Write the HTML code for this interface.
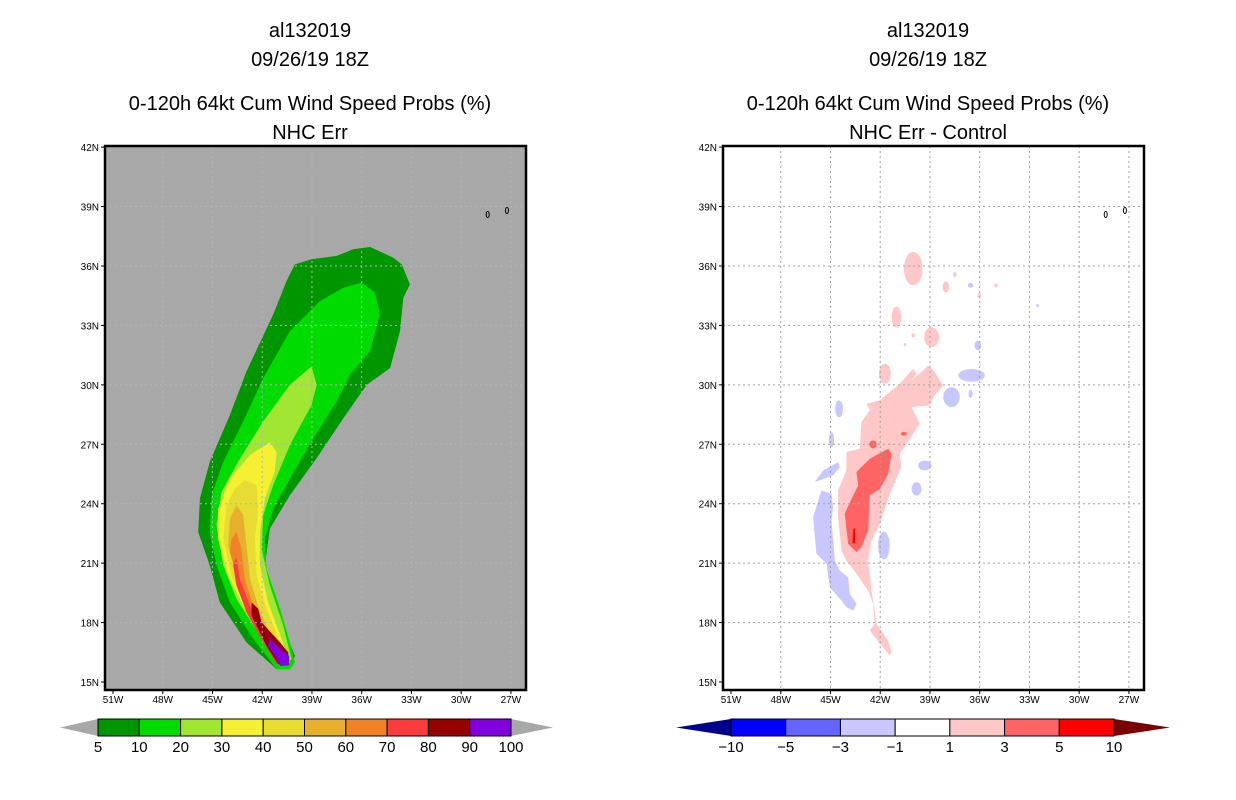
<!DOCTYPE html>
<html><head><meta charset="utf-8">
<style>
html,body{margin:0;padding:0;background:#fff;}
svg{display:block;font-family:"Liberation Sans","DejaVu Sans",sans-serif;}
</style></head>
<body>
<svg id="chart" width="1236" height="800" viewBox="0 0 1236 800">
<g id="titles" font-size="20" text-anchor="middle" fill="#000">
<text x="310" y="37">al132019</text>
<text x="310" y="66">09/26/19 18Z</text>
<text x="310" y="110">0-120h 64kt Cum Wind Speed Probs (%)</text>
<text x="310" y="139">NHC Err</text>
<text x="928" y="37">al132019</text>
<text x="928" y="66">09/26/19 18Z</text>
<text x="928" y="110">0-120h 64kt Cum Wind Speed Probs (%)</text>
<text x="928" y="139">NHC Err - Control</text>
</g>
<g id="leftPanel"></g>
<g id="rightPanel"></g>
<g id="leftBar"></g>
<g id="rightBar"></g>
</svg>
<script>
// ---- data ----
const latTicks = [42,39,36,33,30,27,24,21,18,15];
const lonTicks = [51,48,45,42,39,36,33,30,27];
const probLevels = [5,10,20,30,40,50,60,70,80,90,100];
const probColors = ["#009600","#00dc00","#a0e632","#f5f032","#e6dc32","#e6af2d","#f08228","#fa3c3c","#960000","#8200dc"];
const diffLevels = [-10,-5,-3,-1,1,3,5,10];
const diffColors = ["#0000ff","#6464ff","#c8c8ff","#ffffff","#ffc8c8","#ff6464","#ff0000"];
// contours [lonW, latN]
const prob5 = [[40.03,36.08],[39.02,36.34],[37.51,36.51],[36.51,36.84],[35.5,36.96],[34.09,36.42],[33.59,36.08],[33.09,35.07],[33.49,34.4],[33.69,32.71],[34.29,30.85],[35.7,30.0],[37.11,28.31],[38.72,26.29],[40.33,24.43],[41.54,22.74],[41.84,20.88],[41.13,19.19],[40.53,17.33],[40.03,16.32],[40.33,15.65],[41.13,15.65],[42.95,17.0],[44.56,19.02],[45.16,20.88],[45.86,22.57],[45.76,24.26],[45.16,26.12],[43.95,28.48],[42.95,30.68],[41.34,33.55],[40.53,35.24]];
const prob10 = [[36.0,35.16],[35.2,34.65],[34.9,33.55],[35.5,31.69],[36.71,30.51],[37.51,29.16],[38.92,27.3],[40.33,25.27],[41.34,23.75],[41.84,22.23],[41.74,20.71],[40.93,18.69],[40.33,17.0],[40.03,15.98],[40.33,15.65],[41.13,15.65],[42.54,17.17],[43.95,19.02],[44.76,20.88],[45.16,22.57],[45.06,24.43],[44.35,26.12],[43.15,28.15],[41.94,30.34],[40.33,32.71],[38.52,34.23],[37.11,34.9]];
const prob20 = [[39.02,30.93],[38.72,30.0],[39.02,28.99],[40.33,26.96],[41.34,24.94],[41.94,23.42],[42.04,21.73],[41.54,19.87],[40.73,17.84],[40.23,16.15],[40.93,15.81],[42.14,17.33],[43.55,19.19],[44.35,20.88],[44.76,22.91],[44.45,24.6],[43.45,26.12],[41.94,28.15],[40.33,30.0]];
const prob30 = [[41.54,27.1],[41.13,26.62],[41.24,25.61],[41.84,24.26],[42.14,22.57],[42.14,20.88],[41.64,19.02],[40.83,17.17],[40.33,15.98],[40.93,15.81],[41.94,17.17],[43.15,18.86],[44.15,20.54],[44.66,22.23],[44.66,23.75],[43.95,25.27],[42.74,26.46]];
const prob40 = [[43.05,25.19],[42.34,24.94],[42.24,23.75],[42.44,22.23],[42.34,20.37],[41.74,18.69],[40.93,17.0],[40.43,15.98],[40.93,15.81],[41.94,17.0],[42.95,18.69],[43.85,20.37],[44.35,22.23],[44.15,23.92],[43.65,24.77]];
const prob50 = [[43.55,23.92],[43.15,23.42],[42.95,21.9],[42.74,20.21],[42.14,18.52],[41.24,17.0],[40.53,15.98],[40.93,15.81],[41.84,17.0],[42.74,18.52],[43.55,20.21],[44.05,21.9],[43.95,23.25]];
const prob60 = [[43.55,22.57],[43.25,21.73],[43.05,20.21],[42.44,18.52],[41.44,17.0],[40.63,16.07],[41.03,15.9],[41.84,17.0],[42.64,18.52],[43.45,20.21],[43.95,21.56],[43.85,22.23]];
const prob70 = [[43.55,21.3],[43.35,20.21],[42.74,18.86],[41.84,17.5],[40.73,16.49],[40.63,15.98],[41.13,15.9],[41.94,17.0],[42.95,18.52],[43.55,19.87],[43.75,20.88]];
const prob80 = [[42.64,19.02],[42.24,18.69],[42.04,18.01],[40.93,17.0],[40.43,16.49],[40.43,15.98],[41.03,15.9],[41.74,16.83],[42.34,17.84],[42.64,18.35]];
const prob90 = [[41.54,17.25],[41.34,17.0],[40.63,16.49],[40.37,16.32],[40.37,15.85],[40.93,15.81],[41.24,16.32],[41.64,16.83]];
const diffPink = [[41.42,16.34],[42.02,16.93],[42.63,17.6],[42.33,17.94],[42.43,18.95],[42.73,19.62],[43.43,20.46],[44.04,21.13],[44.34,21.64],[44.54,23.32],[44.54,24.67],[44.04,25.68],[44.04,26.61],[43.23,26.77],[43.13,28.12],[42.63,28.71],[42.83,29.05],[42.02,29.22],[40.82,30.06],[40.01,30.81],[39.81,30.56],[40.11,30.23],[39.41,30.73],[39.11,30.98],[38.8,30.73],[38.2,29.97],[38.8,29.38],[39.01,28.96],[40.11,28.88],[39.61,28.04],[40.41,27.03],[40.82,26.52],[40.72,25.85],[41.42,24.5],[42.02,22.99],[42.53,22.14],[42.73,21.13],[42.53,19.62],[42.33,18.61],[42.23,17.94],[41.52,17.09],[41.32,16.5]];
const diffSalmon = [[41.52,26.77],[41.32,26.52],[41.52,25.51],[42.02,24.75],[42.63,24.42],[42.73,22.65],[43.13,21.81],[43.43,21.56],[43.94,21.98],[44.14,23.49],[43.73,24.25],[43.33,24.92],[43.43,25.6],[42.63,26.27]];
const diffRed = [[43.52,22.0],[43.52,22.75],[43.62,22.75],[43.68,22.0]];
const diffBlueA = [[45.55,24.67],[44.94,24.5],[44.84,23.83],[44.94,23.15],[44.74,21.13],[44.44,20.63],[43.94,20.29],[43.83,19.45],[43.43,18.95],[43.63,18.61],[44.04,18.78],[44.34,19.11],[45.04,19.79],[45.24,20.97],[45.85,21.47],[46.05,23.32]];
const diffBlueB = [[45.95,25.09],[45.44,25.68],[44.54,26.1],[44.44,25.85],[44.84,25.43],[45.65,25.18]];
// blobs: [lonW, latN, radius lon deg, radius lat deg]
const blueBlobs = [[44.48,28.79,0.24,0.42],[44.94,27.23,0.16,0.37],[39.31,25.93,0.4,0.25],[39.81,24.75,0.3,0.34],[41.78,21.89,0.35,0.7],[37.7,29.38,0.5,0.5],[36.49,30.48,0.8,0.32],[36.55,29.55,0.12,0.2],[36.11,31.99,0.2,0.25],[36.55,35.02,0.16,0.12],[32.51,34.0,0.08,0.08]];
const pinkBlobs = [[40.01,35.87,0.56,0.84],[41.02,33.42,0.28,0.54],[38.9,32.41,0.45,0.5],[41.72,30.56,0.36,0.5],[38.04,34.94,0.2,0.28],[37.5,35.56,0.1,0.14],[35.02,35.02,0.1,0.1],[36.03,34.52,0.1,0.14],[40.01,32.5,0.1,0.1],[40.5,32.03,0.08,0.08]];
const salmonBlobs = [[42.43,26.99,0.22,0.2],[40.58,27.53,0.18,0.1]];
const islands = [[28.4,38.6],[27.24,38.8]];

// ---- axes ----
const NS="http://www.w3.org/2000/svg";
const Y0=682, PXLAT=19.81, PXLON=16.58;
function xs(x0,lon){return x0+(51-lon)*PXLON;}
function ys(lat){return Y0-(lat-15)*PXLAT;}
function mk(tag,attrs,parent){const e=document.createElementNS(NS,tag);for(const k in attrs)e.setAttribute(k,attrs[k]);parent.appendChild(e);return e;}
function poly(x0,pts,fill,parent,name){
  const e=mk('polygon',{points:pts.map(p=>xs(x0,p[0]).toFixed(1)+','+ys(p[1]).toFixed(1)).join(' '),fill:fill},parent);
  
  
}
function blob(x0,b,fill,parent,name){
  if(b[2]<=0)return;
  const e=mk('ellipse',{cx:xs(x0,b[0]),cy:ys(b[1]),rx:b[2]*PXLON,ry:b[3]*PXLAT,fill:fill},parent);
  
  
}
function panel(g,x0,bg){
  const L=105+(x0-113),R=526+(x0-113),T=146,B=690;
  const bgR=mk('rect',{x:L,y:T,width:R-L,height:B-T,fill:bg},g);
  
  
  return {L,R,T,B};
}
function frame(g,x0,box,gridColor){
  for(const lon of lonTicks){
    const x=xs(x0,lon);
    if(lon<51){const l=mk('line',{x1:x,x2:x,y1:box.T,y2:box.B,stroke:gridColor,'stroke-width':1,'stroke-dasharray':'2,3'},g);
    
    }
    mk('line',{x1:x,x2:x,y1:box.B,y2:box.B+4,stroke:'#000','stroke-width':1},g);
    const t=mk('text',{x:x,y:box.B+13,'font-size':10,'text-anchor':'middle'},g);t.textContent=lon+'W';
    
    
  }
  for(const lat of latTicks){
    const y=ys(lat);
    if(lat>15&&lat<42){const l=mk('line',{x1:box.L,x2:box.R,y1:y,y2:y,stroke:gridColor,'stroke-width':1,'stroke-dasharray':'2,3'},g);
    
    }
    mk('line',{x1:box.L-4,x2:box.L,y1:y,y2:y,stroke:'#000','stroke-width':1},g);
    const t=mk('text',{x:box.L-6,y:y+4,'font-size':10,'text-anchor':'end'},g);t.textContent=lat+'N';
    
    
  }
  for(const isl of islands){
    const e=mk('ellipse',{cx:xs(x0,isl[0]),cy:ys(isl[1]),rx:1.5,ry:3,fill:'none',stroke:'#000','stroke-width':1},g);
    
    
  }
  const f=mk('rect',{x:box.L,y:box.T,width:box.R-box.L,height:box.B-box.T,fill:'none',stroke:'#000','stroke-width':2.5},g);
  
  
}
// left panel
const gl=document.getElementById('leftPanel');
const bl=panel(gl,113,'#a8a8a8');
const probSets=[prob5,prob10,prob20,prob30,prob40,prob50,prob60,prob70,prob80,prob90];
probSets.forEach((p,i)=>poly(113,p,probColors[i],gl,'prob-contour-'+probLevels[i]));
frame(gl,113,bl,'#b4b4b4');
// right panel
const gr=document.getElementById('rightPanel');
const br=panel(gr,731,'#ffffff');
poly(731,diffPink,diffColors[4],gr,'diff-contour-1-3');
pinkBlobs.forEach(b=>blob(731,b,diffColors[4],gr,'diff-blob-1-3'));
poly(731,diffSalmon,diffColors[5],gr,'diff-contour-3-5');
salmonBlobs.forEach(b=>blob(731,b,diffColors[5],gr,'diff-blob-3-5'));
poly(731,diffRed,diffColors[6],gr,'diff-contour-5-10');
poly(731,diffBlueA,diffColors[2],gr,'diff-contour-neg1-neg3-a');
poly(731,diffBlueB,diffColors[2],gr,'diff-contour-neg1-neg3-b');
blueBlobs.forEach(b=>blob(731,b,diffColors[2],gr,'diff-blob-neg1-neg3'));
frame(gr,731,br,'#a0a0a0');

// colorbars
function colorbar(g,x1,x2,tipL,tipR,colors,labels,leftTip,rightTip){
  const y1=719,y2=736,ym=727.5,n=colors.length,w=(x2-x1)/n;
  const a=mk('polygon',{points:`${tipL},${ym} ${x1},${y1} ${x1},${y2}`,fill:leftTip},g);
  
  
  const b=mk('polygon',{points:`${tipR},${ym} ${x2},${y1} ${x2},${y2}`,fill:rightTip},g);
  
  
  colors.forEach((c,i)=>{
    const r=mk('rect',{x:x1+i*w,y:y1,width:w,height:y2-y1,fill:c,stroke:'#000','stroke-width':1},g);
    
    
  });
  labels.forEach((l,i)=>{
    const t=mk('text',{x:x1+i*w,y:752,'font-size':15,'text-anchor':'middle'},g);
    t.textContent=(l<0?'\u2212'+(-l):l);
    
    
  });
}
colorbar(document.getElementById('leftBar'),98,511,60,553,probColors,probLevels,'#a8a8a8','#a8a8a8');
colorbar(document.getElementById('rightBar'),731,1114,676,1170,diffColors,diffLevels,'#00008c','#780000');
</script>
</body></html>
